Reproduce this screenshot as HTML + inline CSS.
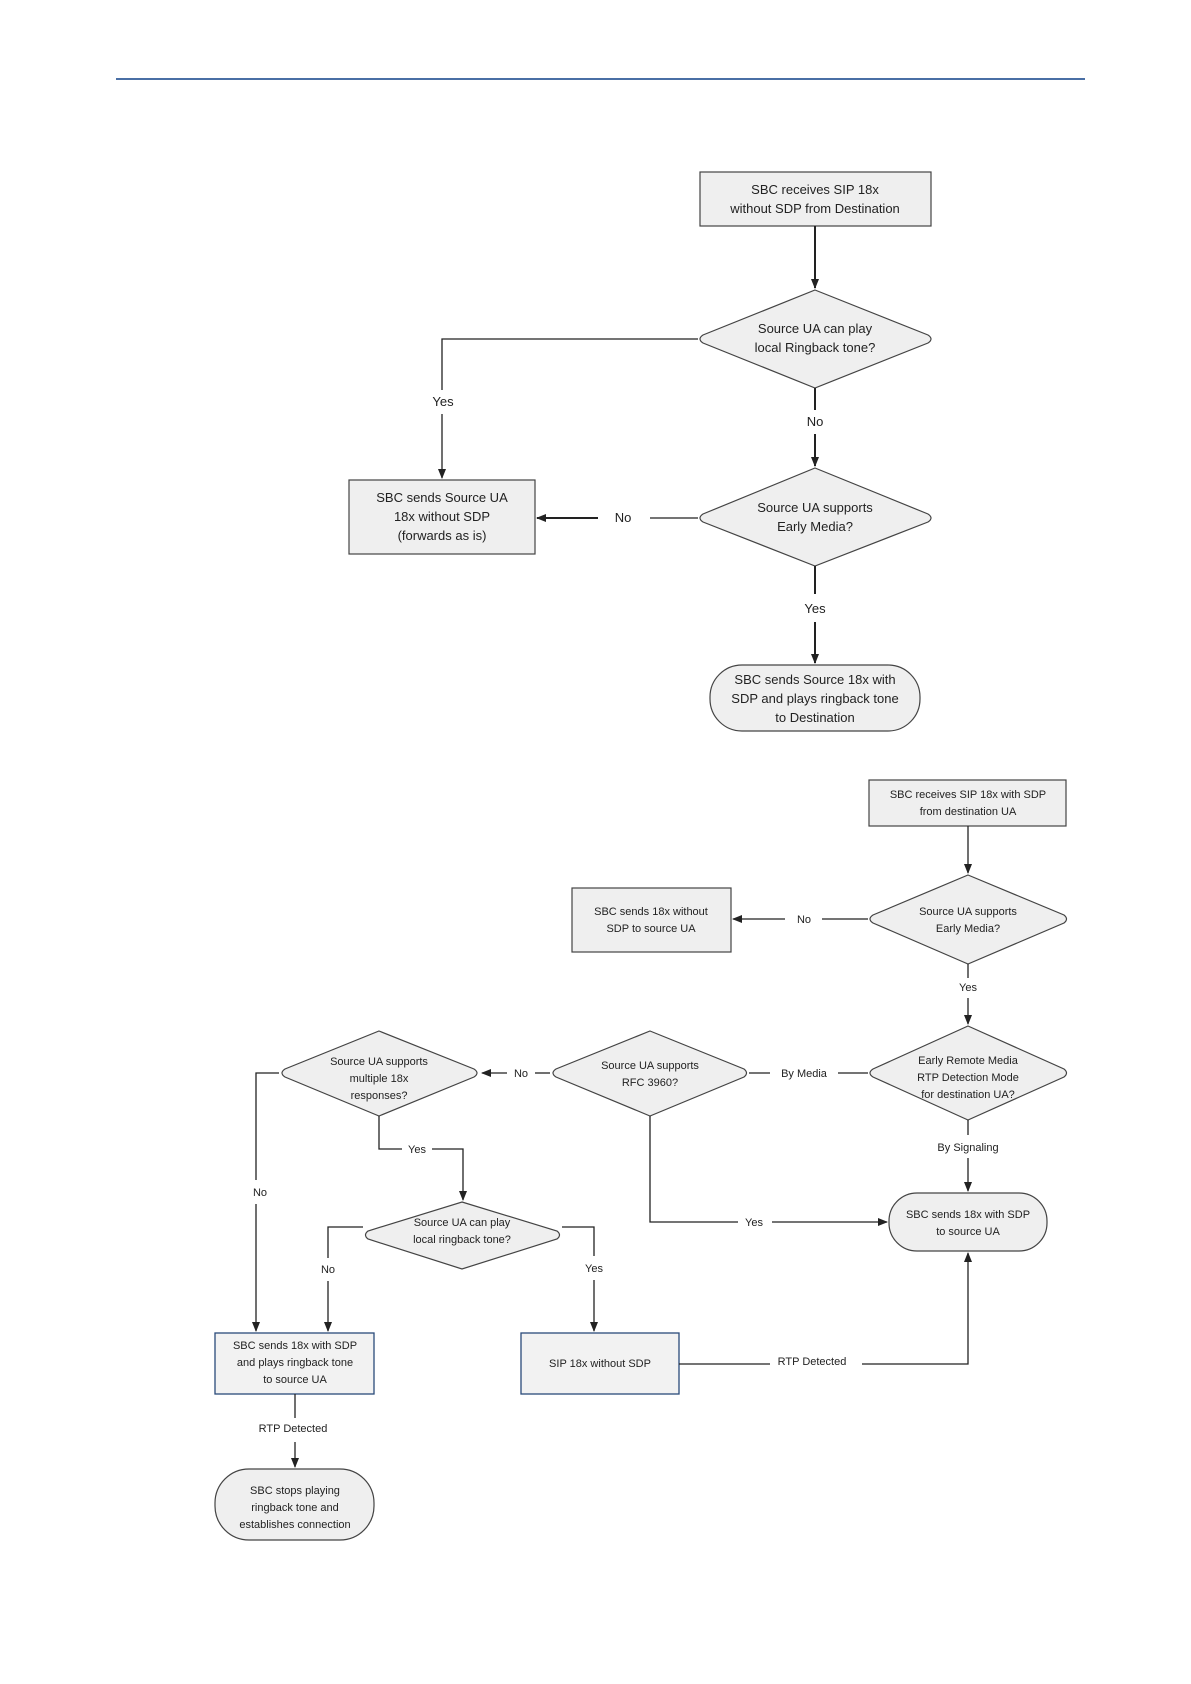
<!DOCTYPE html>
<html><head><meta charset="utf-8"><style>
html,body{margin:0;padding:0;background:#fff}
svg{display:block}
text{font-family:"Liberation Sans",sans-serif;fill:#222}
.t{font-size:13px}
.s{font-size:11px}
.sh{fill:#efefef;stroke:#444;stroke-width:1.2}
.bl{fill:#f2f2f2;stroke:#2a4a7a;stroke-width:1.3}
.ln{fill:none;stroke:#222;stroke-width:1.3}
.lt{fill:none;stroke:#222;stroke-width:2}
</style></head><body>
<svg width="1191" height="1684" viewBox="0 0 1191 1684" xmlns="http://www.w3.org/2000/svg">
<defs>
<marker id="a" markerWidth="10" markerHeight="10" refX="9" refY="5" orient="auto" markerUnits="userSpaceOnUse"><path d="M0,1 L10,5 L0,9 z" fill="#222"/></marker>
</defs>
<line x1="116" y1="79" x2="1085" y2="79" stroke="#4a6fa5" stroke-width="2"/>

<!-- TOP CHART -->
<rect class="sh" x="700" y="172" width="231" height="54"/>
<text class="t" text-anchor="middle" x="815" y="194">SBC receives SIP 18x</text>
<text class="t" text-anchor="middle" x="815" y="213">without SDP from Destination</text>
<line class="lt" x1="815" y1="226" x2="815" y2="288" marker-end="url(#a)"/>

<path class="sh" d="M815,290 L928,335 Q934,339 928,343 L815,388 L703,343 Q697,339 703,335 Z"/>
<text class="t" text-anchor="middle" x="815" y="333">Source UA can play</text>
<text class="t" text-anchor="middle" x="815" y="352">local Ringback tone?</text>

<polyline class="ln" points="698,339 442,339 442,390"/>
<text class="t" text-anchor="middle" x="443" y="406">Yes</text>
<line class="ln" x1="442" y1="414" x2="442" y2="478" marker-end="url(#a)"/>

<line class="lt" x1="815" y1="388" x2="815" y2="410"/>
<text class="t" text-anchor="middle" x="815" y="426">No</text>
<line class="lt" x1="815" y1="434" x2="815" y2="466" marker-end="url(#a)"/>

<path class="sh" d="M815,468 L928,514 Q934,518 928,522 L815,566 L703,522 Q697,518 703,514 Z"/>
<text class="t" text-anchor="middle" x="815" y="512">Source UA supports</text>
<text class="t" text-anchor="middle" x="815" y="531">Early Media?</text>

<rect class="sh" x="349" y="480" width="186" height="74"/>
<text class="t" text-anchor="middle" x="442" y="502">SBC sends Source UA</text>
<text class="t" text-anchor="middle" x="442" y="521">18x without SDP</text>
<text class="t" text-anchor="middle" x="442" y="540">(forwards as is)</text>

<line class="ln" x1="698" y1="518" x2="650" y2="518"/>
<text class="t" text-anchor="middle" x="623" y="522">No</text>
<line class="lt" x1="598" y1="518" x2="537" y2="518" marker-end="url(#a)"/>

<line class="lt" x1="815" y1="566" x2="815" y2="594"/>
<text class="t" text-anchor="middle" x="815" y="613">Yes</text>
<line class="lt" x1="815" y1="622" x2="815" y2="663" marker-end="url(#a)"/>

<rect class="sh" x="710" y="665" width="210" height="66" rx="32"/>
<text class="t" text-anchor="middle" x="815" y="684">SBC sends Source 18x with</text>
<text class="t" text-anchor="middle" x="815" y="703">SDP and plays ringback tone</text>
<text class="t" text-anchor="middle" x="815" y="722">to Destination</text>

<!-- BOTTOM CHART -->
<rect class="sh" x="869" y="780" width="197" height="46"/>
<text class="s" text-anchor="middle" x="968" y="798">SBC receives SIP 18x with SDP</text>
<text class="s" text-anchor="middle" x="968" y="815">from destination UA</text>
<line class="ln" x1="968" y1="826" x2="968" y2="873" marker-end="url(#a)"/>

<path class="sh" d="M968,875 L1064,915 Q1069,919 1064,923 L968,964 L873,923 Q867,919 873,915 Z"/>
<text class="s" text-anchor="middle" x="968" y="915">Source UA supports</text>
<text class="s" text-anchor="middle" x="968" y="932">Early Media?</text>

<rect class="sh" x="572" y="888" width="159" height="64"/>
<text class="s" text-anchor="middle" x="651" y="915">SBC sends 18x without</text>
<text class="s" text-anchor="middle" x="651" y="932">SDP to source UA</text>
<line class="ln" x1="868" y1="919" x2="822" y2="919"/>
<text class="s" text-anchor="middle" x="804" y="923">No</text>
<line class="ln" x1="785" y1="919" x2="733" y2="919" marker-end="url(#a)"/>

<line class="ln" x1="968" y1="964" x2="968" y2="978"/>
<text class="s" text-anchor="middle" x="968" y="991">Yes</text>
<line class="ln" x1="968" y1="998" x2="968" y2="1024" marker-end="url(#a)"/>

<path class="sh" d="M968,1026 L1064,1069 Q1069,1073 1064,1077 L968,1120 L873,1077 Q867,1073 873,1069 Z"/>
<text class="s" text-anchor="middle" x="968" y="1064">Early Remote Media</text>
<text class="s" text-anchor="middle" x="968" y="1081">RTP Detection Mode</text>
<text class="s" text-anchor="middle" x="968" y="1098">for destination UA?</text>

<line class="ln" x1="868" y1="1073" x2="838" y2="1073"/>
<text class="s" text-anchor="middle" x="804" y="1077">By Media</text>
<line class="ln" x1="770" y1="1073" x2="749" y2="1073"/>

<path class="sh" d="M650,1031 L744,1069 Q749,1073 744,1077 L650,1116 L556,1077 Q550,1073 556,1069 Z"/>
<text class="s" text-anchor="middle" x="650" y="1069">Source UA supports</text>
<text class="s" text-anchor="middle" x="650" y="1086">RFC 3960?</text>

<line class="ln" x1="550" y1="1073" x2="535" y2="1073"/>
<text class="s" text-anchor="middle" x="521" y="1077">No</text>
<line class="ln" x1="507" y1="1073" x2="482" y2="1073" marker-end="url(#a)"/>

<path class="sh" d="M379,1031 L474,1069 Q480,1073 474,1077 L379,1116 L285,1077 Q279,1073 285,1069 Z"/>
<text class="s" text-anchor="middle" x="379" y="1065">Source UA supports</text>
<text class="s" text-anchor="middle" x="379" y="1082">multiple 18x</text>
<text class="s" text-anchor="middle" x="379" y="1099">responses?</text>

<line class="ln" x1="968" y1="1120" x2="968" y2="1135"/>
<text class="s" text-anchor="middle" x="968" y="1151">By Signaling</text>
<line class="ln" x1="968" y1="1158" x2="968" y2="1191" marker-end="url(#a)"/>

<rect class="sh" x="889" y="1193" width="158" height="58" rx="28"/>
<text class="s" text-anchor="middle" x="968" y="1218">SBC sends 18x with SDP</text>
<text class="s" text-anchor="middle" x="968" y="1235">to source UA</text>

<polyline class="ln" points="650,1116 650,1222 738,1222"/>
<text class="s" text-anchor="middle" x="754" y="1226">Yes</text>
<line class="ln" x1="772" y1="1222" x2="887" y2="1222" marker-end="url(#a)"/>

<polyline class="ln" points="379,1116 379,1149 402,1149"/>
<text class="s" text-anchor="middle" x="417" y="1153">Yes</text>
<polyline class="ln" points="432,1149 463,1149 463,1200" marker-end="url(#a)"/>

<path class="sh" d="M462,1202 L557,1231 Q562,1235 557,1239 L462,1269 L368,1239 Q363,1235 368,1231 Z"/>
<text class="s" text-anchor="middle" x="462" y="1226">Source UA can play</text>
<text class="s" text-anchor="middle" x="462" y="1243">local ringback tone?</text>

<polyline class="ln" points="279,1073 256,1073 256,1180"/>
<text class="s" text-anchor="middle" x="260" y="1196">No</text>
<line class="ln" x1="256" y1="1204" x2="256" y2="1331" marker-end="url(#a)"/>

<polyline class="ln" points="363,1227 328,1227 328,1258"/>
<text class="s" text-anchor="middle" x="328" y="1273">No</text>
<line class="ln" x1="328" y1="1281" x2="328" y2="1331" marker-end="url(#a)"/>

<polyline class="ln" points="562,1227 594,1227 594,1256"/>
<text class="s" text-anchor="middle" x="594" y="1272">Yes</text>
<line class="ln" x1="594" y1="1280" x2="594" y2="1331" marker-end="url(#a)"/>

<rect class="bl" x="215" y="1333" width="159" height="61"/>
<text class="s" text-anchor="middle" x="295" y="1349">SBC sends 18x with SDP</text>
<text class="s" text-anchor="middle" x="295" y="1366">and plays ringback tone</text>
<text class="s" text-anchor="middle" x="295" y="1383">to source UA</text>

<rect class="bl" x="521" y="1333" width="158" height="61"/>
<text class="s" text-anchor="middle" x="600" y="1367">SIP 18x without SDP</text>

<line class="ln" x1="679" y1="1364" x2="770" y2="1364"/>
<text class="s" text-anchor="middle" x="812" y="1365">RTP Detected</text>
<polyline class="ln" points="862,1364 968,1364 968,1253" marker-end="url(#a)"/>

<line class="ln" x1="295" y1="1394" x2="295" y2="1418"/>
<text class="s" text-anchor="middle" x="293" y="1432">RTP Detected</text>
<line class="ln" x1="295" y1="1442" x2="295" y2="1467" marker-end="url(#a)"/>

<rect class="sh" x="215" y="1469" width="159" height="71" rx="34"/>
<text class="s" text-anchor="middle" x="295" y="1494">SBC stops playing</text>
<text class="s" text-anchor="middle" x="295" y="1511">ringback tone and</text>
<text class="s" text-anchor="middle" x="295" y="1528">establishes connection</text>
</svg>
</body></html>
